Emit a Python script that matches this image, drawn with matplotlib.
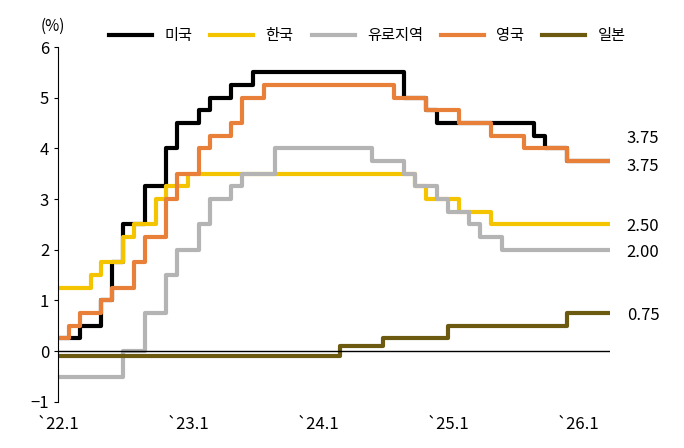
import numpy as np
import matplotlib.pyplot as plt

plt.rcParams['font.family'] = ['Noto Sans CJK KR', 'DejaVu Sans']

# change points: month index from 2022.1 (0) and new rate
us_m = [0, 2, 4, 5, 6, 8, 10, 11, 13, 14, 16, 18, 32, 34, 35, 44, 45, 47]
us_r = [0.25, 0.5, 1.0, 1.75, 2.5, 3.25, 4.0, 4.5, 4.75, 5.0, 5.25, 5.5, 5.0, 4.75, 4.5, 4.25, 4.0, 3.75]
kr_m = [0, 3, 4, 6, 7, 9, 10, 12, 33, 34, 37, 40]
kr_r = [1.25, 1.5, 1.75, 2.25, 2.5, 3.0, 3.25, 3.5, 3.25, 3.0, 2.75, 2.5]
eu_m = [0, 6, 8, 10, 11, 13, 14, 16, 17, 20, 29, 32, 33, 35, 36, 38, 39, 41]
eu_r = [-0.5, 0.0, 0.75, 1.5, 2.0, 2.5, 3.0, 3.25, 3.5, 4.0, 3.75, 3.5, 3.25, 3.0, 2.75, 2.5, 2.25, 2.0]
uk_m = [0, 1, 2, 4, 5, 7, 8, 10, 11, 13, 14, 16, 17, 19, 31, 34, 37, 40, 43, 47]
uk_r = [0.25, 0.5, 0.75, 1.0, 1.25, 1.75, 2.25, 3.0, 3.5, 4.0, 4.25, 4.5, 5.0, 5.25, 5.0, 4.75, 4.5, 4.25, 4.0, 3.75]
jp_m = [0, 26, 30, 36, 47]
jp_r = [-0.1, 0.1, 0.25, 0.5, 0.75]
END = 51

series = [
    ('미국', us_m, us_r, '#000000'),
    ('한국', kr_m, kr_r, '#F5C400'),
    ('유로지역', eu_m, eu_r, '#B4B4B4'),
    ('영국', uk_m, uk_r, '#E8803A'),
    ('일본', jp_m, jp_r, '#6B5A10'),
]
xticks = [0, 12, 24, 36, 48]
xlabels = ['`22.1', '`23.1', '`24.1', '`25.1', '`26.1']

fig = plt.figure(figsize=(6.84, 4.48), dpi=100)
ax = fig.add_axes([0.085, 0.103, 0.807, 0.792])

for name, m, r, c in series:
    ax.step(m + [END], r + [r[-1]], where='post', color=c, lw=3, label=name)

ax.axhline(0, color='black', lw=1)
ax.set_xlim(0, END)
ax.set_ylim(-1, 6)
ax.set_yticks(range(-1, 7))
ax.set_xticks(xticks)
ax.set_xticklabels(xlabels)
ax.tick_params(axis='x', length=0, labelsize=12, pad=10)
ax.tick_params(axis='y', labelsize=12, length=3)
for s in ['top', 'right', 'bottom']:
    ax.spines[s].set_visible(False)
ax.text(-0.5, 6.25, '(%)', ha='center', va='bottom', fontsize=11)

for txt, y in [('3.75', 4.2), ('3.75', 3.65), ('2.50', 2.45), ('2.00', 1.95), ('0.75', 0.7)]:
    ax.text(1.03, y, txt, transform=ax.get_yaxis_transform(), fontsize=12, va='center')

ax.legend(loc='lower center', bbox_to_anchor=(0.56, 0.99), ncol=5, frameon=False,
          fontsize=11, handlelength=2.8, columnspacing=1.2, borderaxespad=0)

fig.savefig('out.png', dpi=100)
